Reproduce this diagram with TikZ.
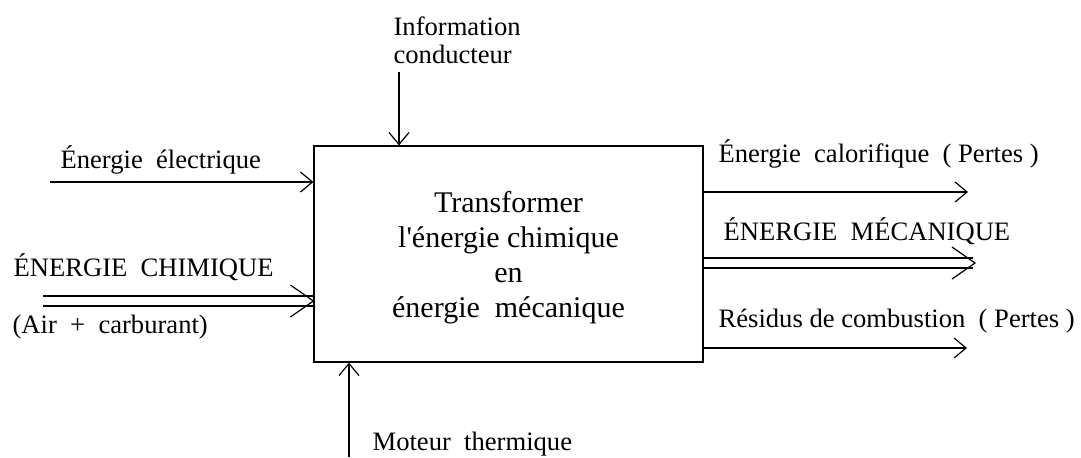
\documentclass[tikz,border=0pt]{standalone}
\usepackage{fontspec}
\setmainfont{Liberation Serif}
\usetikzlibrary{arrows.meta,calc,positioning}

\begin{document}
\begin{tikzpicture}[x=0.5pt, y=-0.5pt, line width=0.6pt,
        lbl/.style={font=\fontsize{13.3}{14}\selectfont, inner sep=0pt, anchor=base west},
        flow/.style={-{Straight Barb[length=6pt,width=10pt]}},
        dbl/.style={double, double distance=4.4pt},
        chevron/.style={line join=miter}]
        \useasboundingbox (0,0) rectangle (1081,457);

        % Main function box
        \node[draw, minimum width=194.5pt, minimum height=108pt, inner sep=0pt, align=center,
              font=\fontsize{15}{17.5}\selectfont] (box) at (508.5,254)
              {\rule{0pt}{14pt}Transformer\\l\textquotesingle énergie chimique\\en\\énergie~~mécanique};

        % Control from top, support from bottom
        \node[lbl, anchor=north west, align=left] (info) at (393,16) {Information\\conducteur};
        \coordinate (infoIn) at (399,72);
        \draw[flow] (infoIn) -- (infoIn |- box.north);

        \node[lbl] (moteur) at (372,450) {Moteur~~thermique};
        \coordinate (motIn) at (349,457);
        \draw[flow] (motIn) -- (motIn |- box.south);

        % Inputs
        \node[lbl] (elec) at (60,168) {Énergie~~électrique};
        \coordinate (elecIn) at (50,182);
        \draw[flow] (elecIn) -- (elecIn -| box.west);

        \node[lbl] (chim) at (13,276) {ÉNERGIE~~CHIMIQUE};
        \node[lbl] (air) at (12,333) {(Air~~+~~carburant)};
        \coordinate (chimIn) at (43,301);
        \coordinate (chimTip) at (chimIn -| box.west);
        \draw[dbl, shorten >=0.3pt] (chimIn) -- (chimTip);
        \draw[chevron] ($(chimTip)+(-11.5pt,8pt)$) -- (chimTip) -- ($(chimTip)+(-11.5pt,-8pt)$);

        % Outputs
        \node[lbl] (calo) at (718,162) {Énergie~~calorifique~~(~Pertes~)};
        \coordinate (caloOut) at (968,192);
        \draw[flow] (caloOut -| box.east) -- (caloOut);

        \node[lbl] (meca) at (723,240) {ÉNERGIE~~MÉCANIQUE};
        \coordinate (mecaOut) at (975,263);
        \draw[dbl, shorten <=0.3pt, shorten >=1pt] (mecaOut -| box.east) -- (mecaOut);
        \draw[chevron] ($(mecaOut)+(-11.5pt,8pt)$) -- (mecaOut) -- ($(mecaOut)+(-11.5pt,-8pt)$);

        \node[lbl] (resid) at (718,327) {Résidus de combustion~~(~Pertes~)};
        \coordinate (residOut) at (967,348);
        \draw[flow] (residOut -| box.east) -- (residOut);

    \end{tikzpicture}
\end{document}
